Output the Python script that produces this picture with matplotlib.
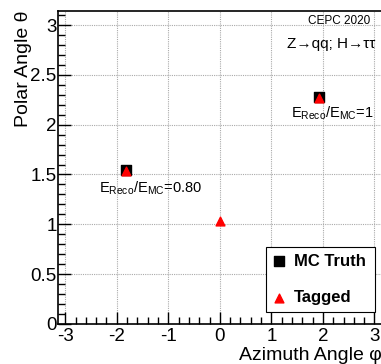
import numpy as np
import matplotlib
matplotlib.use("Agg")
import matplotlib.pyplot as plt
from matplotlib.ticker import MultipleLocator, FormatStrFormatter

plt.rcParams["font.family"] = ["Liberation Sans", "DejaVu Sans"]
plt.rcParams["mathtext.fontset"] = "custom"
plt.rcParams["mathtext.rm"] = "Liberation Sans"
plt.rcParams["mathtext.it"] = "Liberation Sans:italic"

# jet directions (phi, theta)
truth_phi = [-1.83, 1.93]
truth_theta = [1.55, 2.28]
tagged_phi = [-1.83, 1.93, 0.0]
tagged_theta = [1.54, 2.27, 1.03]
ratio_labels = [r"E$_{\mathrm{Reco}}$/E$_{\mathrm{MC}}$=0.80",
                r"E$_{\mathrm{Reco}}$/E$_{\mathrm{MC}}$=1"]
label_pos = [(-2.34, 1.32), (1.38, 2.07)]

fig = plt.figure(figsize=(3.81, 3.64), dpi=100)
ax = fig.add_axes([0.152, 0.110, 0.85, 0.860])

ax.scatter(truth_phi, truth_theta, marker="s", s=45, color="black",
           label="MC Truth", zorder=3)
ax.scatter(tagged_phi, tagged_theta, marker="^", s=40, color="red",
           label="Tagged", zorder=4)

for txt, (x, y) in zip(ratio_labels, label_pos):
    ax.text(x, y, txt, fontsize=10.5, va="baseline", ha="left")

ax.text(2.91, 3.01, "CEPC 2020", fontsize=8.5, ha="right", va="baseline")
ax.text(3.02, 2.77, "Z→qq; H→ττ", fontsize=11, ha="right", va="baseline")

ax.set_xlim(-np.pi, np.pi)
ax.set_ylim(0, np.pi)
ax.xaxis.set_major_locator(MultipleLocator(1))
ax.xaxis.set_minor_locator(MultipleLocator(0.2))
ax.yaxis.set_major_locator(MultipleLocator(0.5))
ax.yaxis.set_minor_locator(MultipleLocator(0.1))
ax.xaxis.set_major_formatter(FormatStrFormatter("%g"))
ax.yaxis.set_major_formatter(FormatStrFormatter("%g"))
ax.tick_params(which="both", direction="in", top=False, right=False,
               labelsize=13.5, width=1)
ax.tick_params(which="major", length=9)
ax.tick_params(axis="x", which="major", pad=3)
ax.tick_params(axis="y", which="major", pad=1)
ax.tick_params(which="minor", length=5)
ax.grid(True, which="major", color="#aaaaaa", linestyle=(0, (1, 1)),
        linewidth=0.8)
for s in ax.spines.values():
    s.set_linewidth(1.2)

ax.set_xlabel("Azimuth Angle φ", fontsize=14, loc="right", labelpad=1)
ax.set_ylabel("Polar Angle θ", fontsize=14, loc="top", labelpad=-1)

leg = ax.legend(loc="lower left", bbox_to_anchor=(0.643, 0.038, 0.335, 0.205),
                mode="expand", fancybox=False, edgecolor="black",
                framealpha=1, borderpad=0.4, labelspacing=1.3,
                handletextpad=0.45, handlelength=0.8, borderaxespad=0,
                prop={"weight": "bold", "size": 12})
leg.get_frame().set_linewidth(0.8)

fig.savefig("out.png", dpi=100)
